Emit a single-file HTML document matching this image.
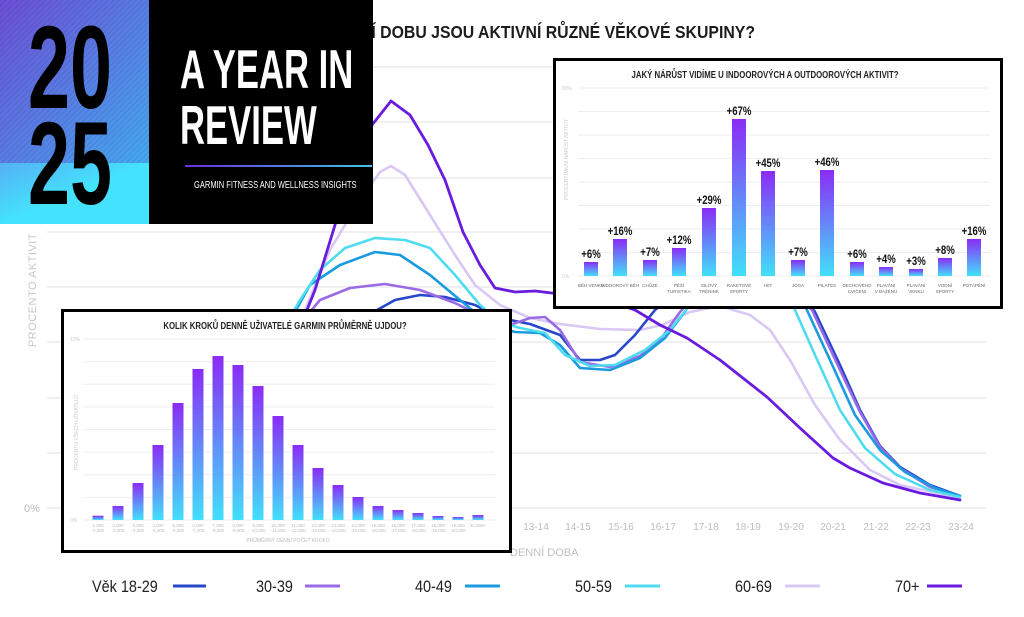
<!DOCTYPE html>
<html><head><meta charset="utf-8"><style>
html,body{margin:0;padding:0;background:#fff;}
svg{display:block;}
text{font-family:"Liberation Sans",sans-serif;}
</style></head><body>
<svg width="1024" height="617" viewBox="0 0 1024 617" xmlns="http://www.w3.org/2000/svg">
<defs>
<linearGradient id="bg" x1="0" y1="0" x2="0" y2="1"><stop offset="0" stop-color="#8a2cf5"/><stop offset="1" stop-color="#42e0fb"/></linearGradient>
<linearGradient id="lg" x1="0" y1="0" x2="1" y2="0"><stop offset="0" stop-color="#6a2ee0"/><stop offset="1" stop-color="#3fc4e6"/></linearGradient>
<linearGradient id="pan" x1="0" y1="0" x2="1" y2="1"><stop offset="0" stop-color="#6c4fd6"/><stop offset="1" stop-color="#45a8f0"/></linearGradient>
<linearGradient id="pan2" x1="0" y1="0" x2="1" y2="1"><stop offset="0" stop-color="#55b0f5"/><stop offset="0.5" stop-color="#44e2fc"/></linearGradient>
<pattern id="hatch" width="4" height="4" patternUnits="userSpaceOnUse" patternTransform="rotate(45)"><rect width="4" height="4" fill="none"/><line x1="0" y1="0" x2="0" y2="4" stroke="#000" stroke-opacity="0.12" stroke-width="1.5"/></pattern>
</defs>

<g stroke="#e6e6e6" stroke-width="1.2">
<line x1="47" y1="67" x2="986" y2="67"/><line x1="47" y1="122" x2="986" y2="122"/><line x1="47" y1="178" x2="986" y2="178"/><line x1="47" y1="232" x2="986" y2="232"/><line x1="47" y1="287" x2="986" y2="287"/><line x1="47" y1="342" x2="986" y2="342"/><line x1="47" y1="398" x2="986" y2="398"/><line x1="47" y1="453" x2="986" y2="453"/><line x1="47" y1="508" x2="986" y2="508"/>
</g>
<text x="0" y="0" transform="translate(36,290) rotate(-90)" text-anchor="middle" font-size="11" fill="#c8c8c8" letter-spacing="0.5">PROCENTO AKTIVIT</text>
<text x="24" y="512" font-size="11" fill="#bbb">0%</text>
<g font-size="10" fill="#bdbdbd" text-anchor="middle">
<text x="536" y="530">13-14</text><text x="578" y="530">14-15</text><text x="621" y="530">15-16</text><text x="663" y="530">16-17</text><text x="706" y="530">17-18</text><text x="748" y="530">18-19</text><text x="791" y="530">19-20</text><text x="833" y="530">20-21</text><text x="876" y="530">21-22</text><text x="918" y="530">22-23</text><text x="961" y="530">23-24</text>
</g>
<text x="510" y="556" font-size="11" fill="#c0c0c0">DENNÍ DOBA</text>

<g fill="none" stroke-width="2.6" stroke-linejoin="round" stroke-linecap="round">
<polyline stroke="#d8c8f3" points="290,340 305,310 330,250 360,200 380,172 391,166 405,175 430,215 455,255 475,285 500,305 530,318 560,324 600,329 640,330 662,325 690,312 720,306 750,315 770,330 790,360 815,405 840,440 870,470 900,485 960,498"/>
<polyline stroke="#2746c8" points="340,340 370,314 395,300 420,295 445,297 475,305 500,318 530,324 560,335 580,360 600,360 615,355 635,335 655,310 680,290 700,280 760,280 800,290 815,312 840,365 860,410 880,446 900,467 930,485 960,496"/>
<polyline stroke="#9b6ae6" points="295,330 320,300 350,288 385,284 420,290 455,303 485,318 510,325 530,318 545,317 560,330 580,362 610,367 640,356 660,340 680,312 700,290 790,285 812,310 840,370 860,412 880,447 900,468 930,487 960,496"/>
<polyline stroke="#1a9be0" points="285,330 310,285 340,265 375,252 400,255 430,275 460,300 490,325 515,332 540,333 560,345 580,368 610,370 640,358 665,338 690,305 710,280 790,280 806,308 830,360 855,415 880,450 905,472 935,488 960,496"/>
<polyline stroke="#4fdcf0" points="280,335 300,300 320,270 345,248 375,238 405,240 430,248 455,275 480,305 500,322 520,328 545,333 565,355 590,366 615,365 645,350 670,330 690,305 710,280 780,280 795,310 815,355 840,410 865,448 895,474 930,490 960,497"/>
<polyline stroke="#6a1be0" stroke-width="2.8" points="295,340 315,290 335,225 355,168 372,125 391,101 410,115 428,145 445,180 463,232 480,265 495,288 515,292 535,291 560,294 590,298 615,303 635,310 660,325 687,338 720,360 767,397 800,428 833,458 850,468 883,483 920,493 960,500"/>
</g>

<text x="0" y="0" transform="translate(755,38) scale(0.88,1)" text-anchor="end" font-size="18" font-weight="bold" fill="#1c1c1c">V JAKOU DENNÍ DOBU JSOU AKTIVNÍ RŮZNÉ VĚKOVÉ SKUPINY?</text>

<g font-size="17" fill="#222">
<text x="0" y="0" transform="translate(92,592) scale(0.85,1)">Věk 18-29</text>
<text x="0" y="0" transform="translate(256,592) scale(0.85,1)">30-39</text>
<text x="0" y="0" transform="translate(415,592) scale(0.85,1)">40-49</text>
<text x="0" y="0" transform="translate(575,592) scale(0.85,1)">50-59</text>
<text x="0" y="0" transform="translate(735,592) scale(0.85,1)">60-69</text>
<text x="0" y="0" transform="translate(895,592) scale(0.85,1)">70+</text>
</g>
<g stroke-width="3">
<line x1="173" y1="586" x2="206" y2="586" stroke="#2746c8"/>
<line x1="305" y1="586" x2="340" y2="586" stroke="#9b6ae6"/>
<line x1="465" y1="586" x2="500" y2="586" stroke="#1a9be0"/>
<line x1="625" y1="586" x2="660" y2="586" stroke="#4fdcf0"/>
<line x1="785" y1="586" x2="820" y2="586" stroke="#d8c8f3"/>
<line x1="927" y1="586" x2="962" y2="586" stroke="#6a1be0"/>
</g>

<rect x="0" y="0" width="149" height="163" fill="url(#pan)"/>
<rect x="0" y="0" width="149" height="163" fill="url(#hatch)"/>
<rect x="0" y="163" width="149" height="61" fill="url(#pan2)"/>
<text x="0" y="0" transform="translate(28,108) scale(0.64,1)" font-size="118" font-weight="bold" fill="#000">20</text>
<text x="0" y="0" transform="translate(28,204) scale(0.64,1)" font-size="118" font-weight="bold" fill="#000">25</text>
<rect x="149" y="0" width="224" height="224" fill="#000"/>
<text x="0" y="0" transform="translate(180,88) scale(0.63,1)" font-size="55" font-weight="bold" fill="#fff">A YEAR IN</text>
<text x="0" y="0" transform="translate(180,144) scale(0.63,1)" font-size="55" font-weight="bold" fill="#fff">REVIEW</text>
<rect x="185" y="165" width="187" height="2" fill="url(#lg)"/>
<text x="0" y="0" transform="translate(194,188) scale(0.72,1)" font-size="10.5" fill="#fff">GARMIN FITNESS AND WELLNESS INSIGHTS</text>

<rect x="554.5" y="59.5" width="447" height="248" fill="#fff" stroke="#000" stroke-width="3"/>
<text x="0" y="0" transform="translate(765,78) scale(0.78,1)" text-anchor="middle" font-size="10" font-weight="bold" fill="#222">JAKÝ NÁRŮST VIDÍME U INDOOROVÝCH A OUTDOOROVÝCH AKTIVIT?</text>
<g stroke="#eee" stroke-width="1">
<line x1="578" y1="88" x2="990" y2="88"/><line x1="578" y1="111.5" x2="990" y2="111.5"/><line x1="578" y1="135" x2="990" y2="135"/><line x1="578" y1="158.5" x2="990" y2="158.5"/><line x1="578" y1="182" x2="990" y2="182"/><line x1="578" y1="205.5" x2="990" y2="205.5"/><line x1="578" y1="229" x2="990" y2="229"/><line x1="578" y1="252.5" x2="990" y2="252.5"/><line x1="578" y1="276" x2="990" y2="276"/>
</g>
<text x="562" y="90" font-size="5" fill="#ccc">80%</text><text x="562" y="278" font-size="5" fill="#ccc">0%</text>
<text x="0" y="0" transform="translate(568,200) rotate(-90)" font-size="5" fill="#ccc">PROCENTUÁLNÍ NÁRŮST AKTIVIT</text>
<g fill="url(#bg)">
<rect x="584" y="262" width="14" height="14"/>
<rect x="613" y="239" width="14" height="37"/>
<rect x="643" y="260" width="14" height="16"/>
<rect x="672" y="248" width="14" height="28"/>
<rect x="702" y="208" width="14" height="68"/>
<rect x="732" y="119" width="14" height="157"/>
<rect x="761" y="171" width="14" height="105"/>
<rect x="791" y="260" width="14" height="16"/>
<rect x="820" y="170" width="14" height="106"/>
<rect x="850" y="262" width="14" height="14"/>
<rect x="879" y="267" width="14" height="9"/>
<rect x="909" y="269" width="14" height="7"/>
<rect x="938" y="258" width="14" height="18"/>
<rect x="967" y="239" width="14" height="37"/>
</g>
<g font-size="12" font-weight="bold" fill="#111" text-anchor="middle">
<text transform="translate(591,258) scale(0.8,1)">+6%</text>
<text transform="translate(620,235) scale(0.8,1)">+16%</text>
<text transform="translate(650,256) scale(0.8,1)">+7%</text>
<text transform="translate(679,244) scale(0.8,1)">+12%</text>
<text transform="translate(709,204) scale(0.8,1)">+29%</text>
<text transform="translate(739,115) scale(0.8,1)">+67%</text>
<text transform="translate(768,167) scale(0.8,1)">+45%</text>
<text transform="translate(798,256) scale(0.8,1)">+7%</text>
<text transform="translate(827,166) scale(0.8,1)">+46%</text>
<text transform="translate(857,258) scale(0.8,1)">+6%</text>
<text transform="translate(886,263) scale(0.8,1)">+4%</text>
<text transform="translate(916,265) scale(0.8,1)">+3%</text>
<text transform="translate(945,254) scale(0.8,1)">+8%</text>
<text transform="translate(974,235) scale(0.8,1)">+16%</text>
</g>
<g font-size="4.5" fill="#666" text-anchor="middle">
<text x="591" y="287">BĚH VENKU</text><text x="620" y="287">INDOOROVÝ BĚH</text><text x="650" y="287">CHŮZE</text>
<text x="679" y="287">PĚŠÍ</text><text x="679" y="293">TURISTIKA</text>
<text x="709" y="287">SILOVÝ</text><text x="709" y="293">TRÉNINK</text>
<text x="739" y="287">RAKETOVÉ</text><text x="739" y="293">SPORTY</text>
<text x="768" y="287">HIIT</text><text x="798" y="287">JÓGA</text><text x="827" y="287">PILATES</text>
<text x="857" y="287">DECHOVÉHO</text><text x="857" y="293">CVIČENÍ</text>
<text x="886" y="287">PLAVÁNÍ</text><text x="886" y="293">V BAZÉNU</text>
<text x="916" y="287">PLAVÁNÍ</text><text x="916" y="293">VENKU</text>
<text x="945" y="287">VODNÍ</text><text x="945" y="293">SPORTY</text>
<text x="974" y="287">POTÁPĚNÍ</text>
</g>

<rect x="62.5" y="310.5" width="448" height="241" fill="#fff" stroke="#000" stroke-width="3"/>
<text transform="translate(285,329) scale(0.78,1)" text-anchor="middle" font-size="10" font-weight="bold" fill="#222">KOLIK KROKŮ DENNĚ UŽIVATELÉ GARMIN PRŮMĚRNĚ UJDOU?</text>
<g stroke="#eee" stroke-width="1">
<line x1="83" y1="339" x2="495" y2="339"/><line x1="83" y1="361.6" x2="495" y2="361.6"/><line x1="83" y1="384.2" x2="495" y2="384.2"/><line x1="83" y1="406.9" x2="495" y2="406.9"/><line x1="83" y1="429.5" x2="495" y2="429.5"/><line x1="83" y1="452.1" x2="495" y2="452.1"/><line x1="83" y1="474.8" x2="495" y2="474.8"/><line x1="83" y1="497.4" x2="495" y2="497.4"/><line x1="83" y1="520" x2="495" y2="520"/>
</g>
<text x="70" y="341" font-size="5" fill="#ccc">10%</text><text x="70" y="522" font-size="5" fill="#ccc">0%</text>
<text transform="translate(78,470) rotate(-90)" font-size="5" fill="#ccc">PROCENTO VŠECH UŽIVATELŮ</text>
<g fill="url(#bg)">
<rect x="92.5" y="515.7" width="11" height="4.3"/>
<rect x="112.5" y="506" width="11" height="14"/>
<rect x="132.5" y="483" width="11" height="37"/>
<rect x="152.5" y="445" width="11" height="75"/>
<rect x="172.5" y="403" width="11" height="117"/>
<rect x="192.5" y="369" width="11" height="151"/>
<rect x="212.5" y="356" width="11" height="164"/>
<rect x="232.5" y="365" width="11" height="155"/>
<rect x="252.5" y="386" width="11" height="134"/>
<rect x="272.5" y="416" width="11" height="104"/>
<rect x="292.5" y="445" width="11" height="75"/>
<rect x="312.5" y="468" width="11" height="52"/>
<rect x="332.5" y="485" width="11" height="35"/>
<rect x="352.5" y="497" width="11" height="23"/>
<rect x="372.5" y="506" width="11" height="14"/>
<rect x="392.5" y="510" width="11" height="10"/>
<rect x="412.5" y="513" width="11" height="7"/>
<rect x="432.5" y="516" width="11" height="4"/>
<rect x="452.5" y="517" width="11" height="3"/>
<rect x="472.5" y="515" width="11" height="5"/>
</g>
<g font-size="4.5" fill="#bbb" text-anchor="middle">
<text x="98" y="527">1,000</text><text x="98" y="532">-2,000</text>
<text x="118" y="527">2,000</text><text x="118" y="532">-3,000</text>
<text x="138" y="527">3,000</text><text x="138" y="532">-4,000</text>
<text x="158" y="527">4,000</text><text x="158" y="532">-5,000</text>
<text x="178" y="527">5,000</text><text x="178" y="532">-6,000</text>
<text x="198" y="527">6,000</text><text x="198" y="532">-7,000</text>
<text x="218" y="527">7,000</text><text x="218" y="532">-8,000</text>
<text x="238" y="527">8,000</text><text x="238" y="532">-9,000</text>
<text x="258" y="527">9,000</text><text x="258" y="532">-10,000</text>
<text x="278" y="527">10,000</text><text x="278" y="532">-11,000</text>
<text x="298" y="527">11,000</text><text x="298" y="532">-12,000</text>
<text x="318" y="527">12,000</text><text x="318" y="532">-13,000</text>
<text x="338" y="527">13,000</text><text x="338" y="532">-14,000</text>
<text x="358" y="527">14,000</text><text x="358" y="532">-15,000</text>
<text x="378" y="527">15,000</text><text x="378" y="532">-16,000</text>
<text x="398" y="527">16,000</text><text x="398" y="532">-17,000</text>
<text x="418" y="527">17,000</text><text x="418" y="532">-18,000</text>
<text x="438" y="527">18,000</text><text x="438" y="532">-19,000</text>
<text x="458" y="527">19,000</text><text x="458" y="532">-20,000</text>
<text x="478" y="527">20,000+</text>
</g>
<text x="288" y="542" font-size="5" fill="#bbb" text-anchor="middle">PRŮMĚRNÝ DENNÍ POČET KROKŮ</text>
</svg>
</body></html>
